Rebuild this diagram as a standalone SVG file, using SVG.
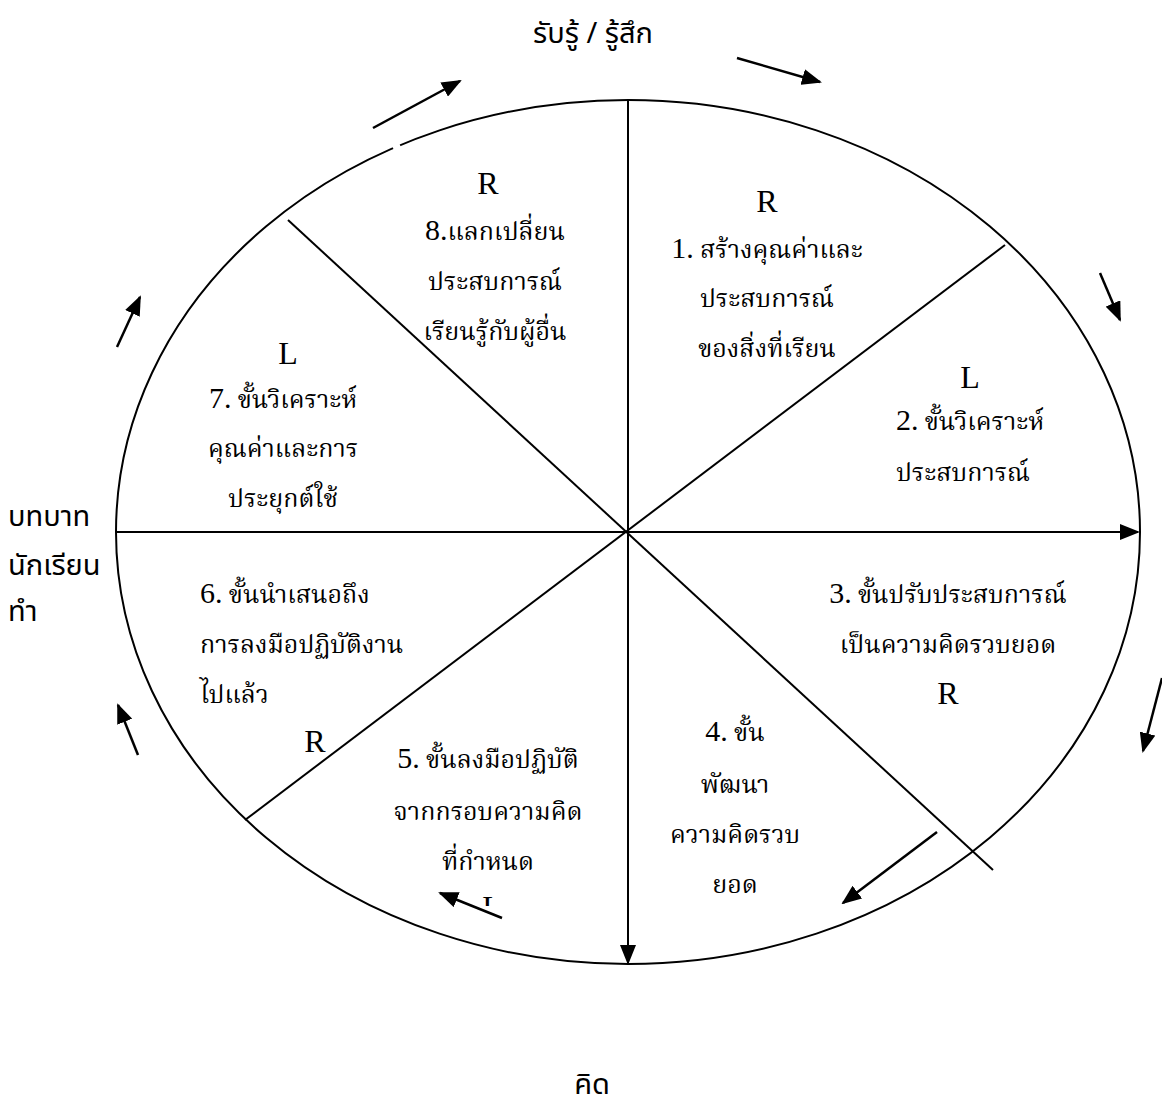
<svg xmlns="http://www.w3.org/2000/svg" width="1162" height="1109" viewBox="0 0 1162 1109">
<style>
.ln{stroke:#000;stroke-width:2;fill:none}
.ar{stroke:#000;stroke-width:2.5;fill:none;marker-end:url(#ah)}
.t{font-family:'Liberation Serif','Noto Serif Thai','Noto Sans Thai','DejaVu Sans',serif;font-size:25px;fill:#000;text-anchor:middle}
.tl{font-family:'Liberation Serif','Noto Serif Thai','Noto Sans Thai','DejaVu Sans',serif;font-size:25px;fill:#000}
.big{font-family:'Liberation Serif',serif;font-size:32px;fill:#000;text-anchor:middle}
.num{font-size:30px}
.s{font-family:'Noto Sans Thai','Noto Sans','DejaVu Sans',sans-serif;font-size:29px;fill:#000}
.gap{stroke:#fff;stroke-width:5;fill:none}
</style>
<defs>
<marker id="ah" markerWidth="20" markerHeight="16" refX="18" refY="8" orient="auto" markerUnits="userSpaceOnUse">
<path d="M0,0 L20,8 L0,16 Z" fill="#000"/>
</marker>
<clipPath id="cut"><rect x="470" y="880" width="40" height="26"/></clipPath>
</defs>
<rect width="1162" height="1109" fill="#fff"/>
<g id="connectors">
<ellipse class="ln" cx="628" cy="532" rx="512" ry="432"/>
<path class="gap" d="M393,148 L400,145"/>
<path class="gap" d="M173,326 L181,314"/>
<path class="gap" d="M179,754 L186,767"/>
<path class="gap" d="M1102,708 L1097,722"/>
<line class="ln" x1="1005" y1="245" x2="245" y2="820"/>
<line class="ln" x1="288" y1="220" x2="993" y2="870"/>
<line class="ln" x1="117" y1="532" x2="1138" y2="532" marker-end="url(#ah)"/>
<line class="ln" x1="628" y1="100" x2="628" y2="963" marker-end="url(#ah)"/>
<line class="ar" x1="373" y1="128" x2="460" y2="81"/>
<line class="ar" x1="737" y1="58" x2="820" y2="82"/>
<line class="ar" x1="1100" y1="273" x2="1120" y2="320"/>
<line class="ar" x1="1162" y1="678" x2="1143" y2="751"/>
<line class="ar" x1="937" y1="832" x2="843" y2="903"/>
<line class="ar" x1="502" y1="918" x2="440" y2="893"/>
<line class="ar" x1="138" y1="755" x2="118" y2="705"/>
<line class="ar" x1="117" y1="347" x2="140" y2="297"/>
</g>
<g id="label-top"><text class="s" x="593" y="43" text-anchor="middle">รับรู้ / รู้สึก</text></g>
<g id="label-bottom"><text class="s" x="592" y="1094" text-anchor="middle">คิด</text></g>
<g id="label-left">
<text class="s" x="8" y="526">บทบาท</text>
<text class="s" x="8" y="575">นักเรียน</text>
<text class="s" x="8" y="621">ทำ</text>
</g>
<g id="node1">
<text class="big" x="767" y="212">R</text>
<text class="t" x="767" y="258"><tspan class="num">1.</tspan> สร้างคุณค่าและ</text>
<text class="t" x="767" y="307">ประสบการณ์</text>
<text class="t" x="767" y="357">ของสิ่งที่เรียน</text>
</g>
<g id="node8">
<text class="big" x="488" y="194">R</text>
<text class="t" x="495" y="240"><tspan class="num">8.</tspan>แลกเปลี่ยน</text>
<text class="t" x="495" y="290">ประสบการณ์</text>
<text class="t" x="495" y="340">เรียนรู้กับผู้อื่น</text>
</g>
<g id="node2">
<text class="big" x="970" y="388">L</text>
<text class="t" x="970" y="430"><tspan class="num">2.</tspan> ขั้นวิเคราะห์</text>
<text class="t" x="963" y="481">ประสบการณ์</text>
</g>
<g id="node7">
<text class="big" x="288" y="364">L</text>
<text class="t" x="283" y="408"><tspan class="num">7.</tspan> ขั้นวิเคราะห์</text>
<text class="t" x="283" y="457">คุณค่าและการ</text>
<text class="t" x="283" y="507">ประยุกต์ใช้</text>
</g>
<g id="node3">
<text class="t" x="948" y="603"><tspan class="num">3.</tspan> ขั้นปรับประสบการณ์</text>
<text class="t" x="948" y="653">เป็นความคิดรวบยอด</text>
<text class="big" x="948" y="704">R</text>
</g>
<g id="node6">
<text class="tl" x="200" y="603"><tspan class="num">6.</tspan> ขั้นนำเสนอถึง</text>
<text class="tl" x="200" y="653">การลงมือปฏิบัติงาน</text>
<text class="tl" x="200" y="703">ไปแล้ว</text>
<text class="big" x="315" y="752">R</text>
</g>
<g id="node4">
<text class="t" x="735" y="741"><tspan class="num">4.</tspan> ขั้น</text>
<text class="t" x="735" y="793">พัฒนา</text>
<text class="t" x="735" y="843">ความคิดรวบ</text>
<text class="t" x="735" y="893">ยอด</text>
</g>
<g id="node5">
<text class="t" x="488" y="768"><tspan class="num">5.</tspan> ขั้นลงมือปฏิบัติ</text>
<text class="t" x="488" y="820">จากกรอบความคิด</text>
<text class="t" x="488" y="870">ที่กำหนด</text>
<text class="big" x="492" y="918" clip-path="url(#cut)">L</text>
</g>
</svg>
